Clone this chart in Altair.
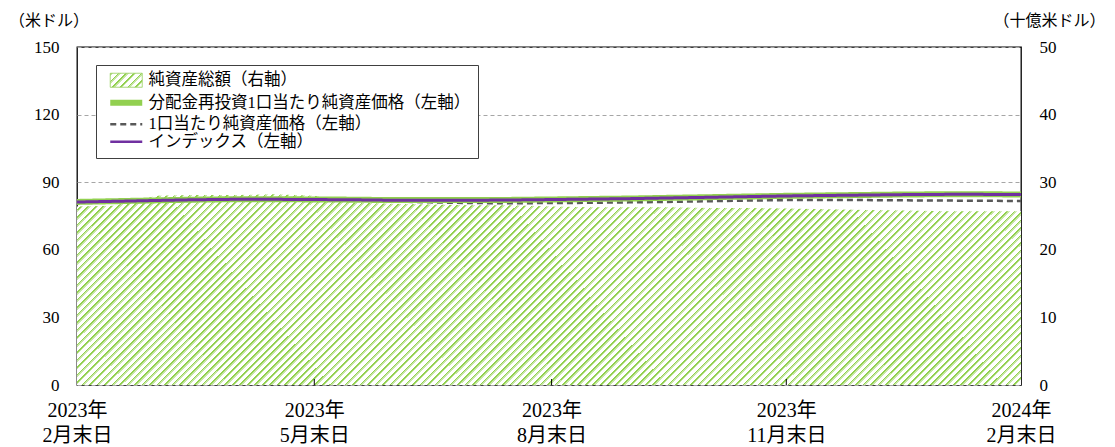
import altair as alt
import pandas as pd

# ---- data ----
days = [0, 14, 31, 45, 61, 76, 92, 107, 122, 137, 153, 168, 184, 199, 214, 229, 245, 260, 275, 290, 306, 321, 337, 351, 366]
index_vals = [81.2, 81.5, 81.9, 82.2, 82.4, 82.4, 82.3, 82.2, 82.0, 82.0, 82.0, 82.1, 82.3, 82.5, 82.7, 83.0, 83.3, 83.6, 83.9, 84.1, 84.3, 84.5, 84.6, 84.6, 84.5]
reinvest_vals = [81.25, 81.55, 81.95, 82.25, 82.45, 82.45, 82.35, 82.25, 82.05, 82.05, 82.05, 82.15, 82.35, 82.55, 82.75, 83.05, 83.35, 83.65, 83.95, 84.15, 84.35, 84.55, 84.65, 84.65, 84.55]
nav_vals = [81.25, 81.55, 81.95, 82.25, 82.45, 82.45, 82.35, 81.95, 81.45, 81.05, 80.75, 80.65, 80.75, 80.85, 81.05, 81.25, 81.55, 81.85, 82.05, 82.05, 82.05, 81.95, 81.85, 81.75, 81.65]
assets = [26.4, 26.5, 28.0, 28.1, 28.1, 28.2, 28.0, 27.0, 26.8, 26.7, 26.6, 26.6, 26.4, 26.3, 26.3, 26.3, 26.2, 26.2, 26.1, 26.0, 25.9, 25.8, 25.7, 25.7, 25.7]

series_names = [
    "純資産総額（右軸）",
    "分配金再投資1口当たり純資産価格（左軸）",
    "1口当たり純資産価格（左軸）",
    "インデックス（左軸）",
]
series_colors = ["#9fd36a", "#92d050", "#595959", "#7030a0"]
series_dashes = [[1, 0], [1, 0], [6, 4], [1, 0]]
line_widths = {"分配金再投資1口当たり純資産価格（左軸）": 6, "1口当たり純資産価格（左軸）": 2.5, "インデックス（左軸）": 3}

xtick_days = [0, 92, 184, 275, 366]
xtick_year = ["2023年", "2023年", "2023年", "2023年", "2024年"]
xtick_md = ["2月末日", "5月末日", "8月末日", "11月末日", "2月末日"]

left_ticks = [0, 30, 60, 90, 120, 150]
right_ticks = [0, 10, 20, 30, 40, 50]

FONT = "Liberation Serif, Noto Sans CJK JP"

# ---- tables ----
df_area = pd.DataFrame({"day": days, "assets": assets})
df_lines = pd.concat([
    pd.DataFrame({"day": days, "value": reinvest_vals, "series": series_names[1]}),
    pd.DataFrame({"day": days, "value": nav_vals, "series": series_names[2]}),
    pd.DataFrame({"day": days, "value": index_vals, "series": series_names[3]}),
], ignore_index=True)
df_ticks = pd.DataFrame({"day": xtick_days[1:-1]})

# ---- hatch pattern as striped gradient ----
G1, G2, W = "#92d050", "#c8e8a6", "#ffffff"


def stripe_stops(n):
    stops = []
    for k in range(n):
        a = k / n
        b = (k + 0.22) / n
        c = (k + 0.44) / n
        d = (k + 1) / n
        stops += [
            {"offset": round(a, 6), "color": G1},
            {"offset": round(b, 6), "color": G1},
            {"offset": round(b, 6), "color": G2},
            {"offset": round(c, 6), "color": G2},
            {"offset": round(c, 6), "color": W},
            {"offset": round(d, 6), "color": W},
        ]
    return stops


hatch = {"gradient": "linear", "x1": 0, "y1": 0, "x2": 1.2, "y2": 0.243, "stops": stripe_stops(157)}

sw_stops = ",".join(
    "{offset:%s,color:'%s'}" % (round(s["offset"], 5), s["color"]) for s in stripe_stops(6)
)
swatch_grad = "{gradient:'linear',x1:0,y1:0,x2:1.2,y2:0.525,stops:[%s]}" % sw_stops

# ---- axes ----
label_expr = ""
for d, yr, md in zip(xtick_days, xtick_year, xtick_md):
    label_expr += f"datum.value == {d} ? ['{yr}', '{md}'] : "
label_expr += "''"

x_enc = alt.X(
    "day:Q",
    scale=alt.Scale(domain=[0, 366], nice=False, zero=False),
    axis=alt.Axis(
        values=xtick_days, labelExpr=label_expr, labelFontSize=20, labelLineHeight=24.5,
        labelPadding=15.5, ticks=False, domain=False, grid=False, labelBaseline="top",
        labelColor="black", labelFont=FONT, labelFlush=False, labelOverlap=False,
    ),
    title=None,
)

left_axis = alt.Axis(
    orient="left", values=left_ticks, grid=True, gridDash=[4, 3], gridColor="#a6a6a6",
    gridWidth=1, ticks=False, domain=False, labelPadding=18, labelFontSize=17,
    labelFont=FONT, labelColor="black", title="（米ドル）", titleAngle=0, titleX=-28.5,
    titleY=-26.5, titleAlign="center", titleBaseline="middle", titleFontWeight="normal",
    titleFontSize=16, titleFont=FONT, titleColor="black", titleLimit=300,
)
right_axis = alt.Axis(
    orient="right", values=right_ticks, grid=False, ticks=False, domain=False,
    labelPadding=18, labelFontSize=17, labelFont=FONT, labelColor="black",
    title="（十億米ドル）", titleAngle=0, titleX=28, titleY=-26.5, titleAlign="center",
    titleBaseline="middle", titleFontWeight="normal", titleFontSize=16, titleFont=FONT,
    titleColor="black", titleLimit=300,
)

n0, n1 = series_names[0], series_names[1]
legend = alt.Legend(
    title=None, orient="none", legendX=19, legendY=18, direction="vertical",
    fillColor="white", strokeColor="#404040", padding=7, labelFont=FONT,
    labelFontSize=16.5, labelColor="black", symbolSize=256, symbolOffset=15,
    labelOffset=14, rowPadding=0.5, labelLimit=600,
    symbolType={"expr": f"datum.value === '{n0}' ? 'M-2,-0.875L2,-0.875L2,0.875L-2,0.875Z' : 'M-2,0L2,0'"},
    symbolFillColor={"expr": f"datum.value === '{n0}' ? {swatch_grad} : 'transparent'"},
    symbolStrokeWidth={"expr": f"(datum && datum.value === '{n1}') ? 6 : ((datum && datum.value === '{n0}') ? 1 : 2.5)"},
)

color_enc = alt.Color(
    "series:N", scale=alt.Scale(domain=series_names, range=series_colors), legend=legend
)
dash_enc = alt.StrokeDash(
    "series:N", scale=alt.Scale(domain=series_names, range=series_dashes), legend=legend
)
y_left = alt.Y("value:Q", scale=alt.Scale(domain=[0, 150], nice=False), axis=left_axis)

area = alt.Chart(df_area).mark_area(fill=hatch, interpolate="linear").encode(
    x=x_enc,
    y=alt.Y("assets:Q", scale=alt.Scale(domain=[0, 50], nice=False), axis=right_axis),
)

base = alt.Chart(df_lines)


def line_layer(name):
    return base.transform_filter(alt.datum.series == name).mark_line(strokeCap="butt").encode(
        x=x_enc, y=y_left, color=color_enc, strokeDash=dash_enc,
        strokeWidth=alt.value(line_widths[name]),
    )


lines = alt.layer(line_layer(series_names[2]), line_layer(series_names[1]), line_layer(series_names[3]))

ticks = alt.Chart(df_ticks).mark_rule(color="black", strokeWidth=1).encode(
    x=x_enc, y=alt.value(338), y2=alt.value(332)
)

chart = (
    alt.layer(area, lines, ticks)
    .resolve_scale(y="independent")
    .properties(
        width=944, height=338,
        padding={"left": 69, "top": 39, "right": 86, "bottom": 60},
        autosize=alt.AutoSizeParams(type="none"),
        background="white",
    )
    .configure_view(stroke="black", strokeWidth=1.3)
)

chart.save("out.html", embed_options={"renderer": "svg", "actions": False})
